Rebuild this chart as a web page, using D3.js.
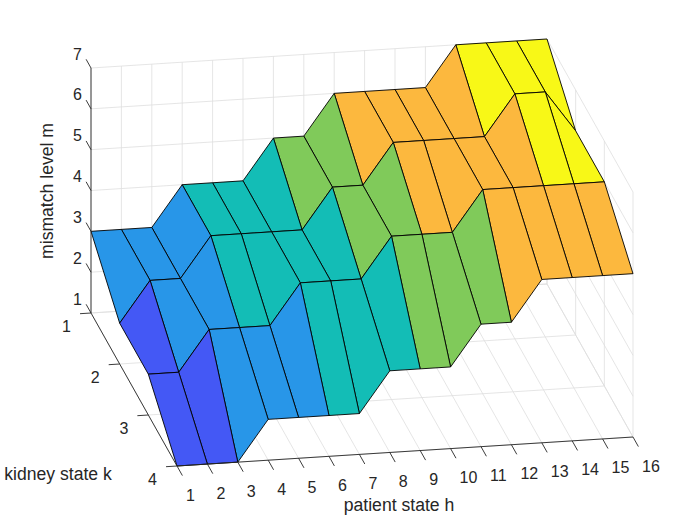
<!DOCTYPE html>
<html>
<head>
<meta charset="utf-8">
<script src="https://cdn.jsdelivr.net/npm/d3@7"></script>
<style>
  body { margin: 0; background: #fff; }
  text { font-family: Arial, "Liberation Sans", Helvetica, sans-serif; fill: #262626; }
</style>
</head>
<body>
<div id="chart-area"></div>
<script>
// DATA

// patient state h (columns), kidney state k (rows)
let hStates = d3.range(1, 17);
let kStates = [1, 2, 3, 4];
let zTicks = [1, 2, 3, 4, 5, 6, 7];

// mismatch level m, one array per kidney state
let mK1 = [3, 3, 3, 4, 4, 4, 5, 5, 6, 6, 6, 6, 7, 7, 7, 7];
let mK2 = [2, 3, 3, 4, 4, 4, 4, 5, 5, 6, 6, 6, 6, 7, 7, 6];
let mK3 = [2, 2, 3, 3, 3, 4, 4, 4, 5, 5, 5, 6, 6, 6, 6, 6];
let mK4 = [1, 1, 1, 2, 2, 2, 2, 3, 3, 3, 4, 4, 5, 5, 5, 5];
let mismatch = [mK1, mK2, mK3, mK4];

// parula-like colours for levels 1..7
let palette = ["#3e26a8", "#4458f5", "#2896e8", "#13bdb6", "#80ca5a", "#fcb83e", "#f8f817"];

// CHART AREA

let width = 700,
  height = 525;

let svg = d3
  .select("#chart-area")
  .append("svg")
  .attr("width", width)
  .attr("height", height);

// 3D -> screen (orthographic view, each axis adds a screen offset)
let origin = { x: 91, y: 313 };

let hx = d3.scaleLinear().domain([1, 16]).range([0, 456]);
let hy = d3.scaleLinear().domain([1, 16]).range([0, -29]);
let kx = d3.scaleLinear().domain([1, 4]).range([0, 86]);
let ky = d3.scaleLinear().domain([1, 4]).range([0, 153]);
let zy = d3.scaleLinear().domain([1, 7]).range([0, -245]);

let color = d3.scaleOrdinal().domain(zTicks).range(palette);

function proj(h, k, z) {
  return [origin.x + hx(h) + kx(k), origin.y + hy(h) + ky(k) + zy(z)];
}

let line = d3.line();

function seg(g, a, b, cls) {
  g.append("path").attr("class", cls).attr("d", line([a, b]));
}

let hMin = 1, hMax = 16, kMin = 1, kMax = 4, zMin = 1, zMax = 7;

// ---- GRID (floor + two back walls) ----
let grid = svg
  .append("g")
  .attr("fill", "none")
  .attr("stroke", "#dedede")
  .attr("stroke-width", 0.8);

kStates.forEach(function(k) {
  seg(grid, proj(hMin, k, zMin), proj(hMax, k, zMin), "grid");
  seg(grid, proj(hMax, k, zMin), proj(hMax, k, zMax), "grid");
});
hStates.forEach(function(h) {
  seg(grid, proj(h, kMin, zMin), proj(h, kMax, zMin), "grid");
  seg(grid, proj(h, kMin, zMin), proj(h, kMin, zMax), "grid");
});
zTicks.forEach(function(z) {
  seg(grid, proj(hMin, kMin, z), proj(hMax, kMin, z), "grid");
  seg(grid, proj(hMax, kMin, z), proj(hMax, kMax, z), "grid");
});

// ---- SURFACE ----
let cells = [];
for (let i = 0; i < kStates.length - 1; i++) {
  for (let j = 0; j < hStates.length - 1; j++) {
    let h0 = hStates[j], h1 = hStates[j + 1];
    let k0 = kStates[i], k1 = kStates[i + 1];
    cells.push({
      pts: [
        proj(h0, k0, mismatch[i][j]),
        proj(h1, k0, mismatch[i][j + 1]),
        proj(h1, k1, mismatch[i + 1][j + 1]),
        proj(h0, k1, mismatch[i + 1][j])
      ],
      value: mismatch[i][j],
      depth: hy((h0 + h1) / 2) + ky((k0 + k1) / 2)
    });
  }
}
// far cells first
cells.sort(function(a, b) {
  return a.depth - b.depth;
});

svg
  .append("g")
  .selectAll("path.cell")
  .data(cells)
  .enter()
  .append("path")
  .attr("class", "cell")
  .attr("d", function(d) {
    return line(d.pts) + "Z";
  })
  .attr("fill", function(d) {
    return color(d.value);
  })
  .attr("stroke", "#000")
  .attr("stroke-width", 0.9)
  .attr("stroke-linejoin", "round");

// ---- AXES ----
let axes = svg
  .append("g")
  .attr("fill", "none")
  .attr("stroke", "#262626")
  .attr("stroke-width", 0.9);

seg(axes, proj(hMin, kMin, zMin), proj(hMin, kMin, zMax), "z-axis");
seg(axes, proj(hMin, kMin, zMin), proj(hMin, kMax, zMin), "k-axis");
seg(axes, proj(hMin, kMax, zMin), proj(hMax, kMax, zMin), "h-axis");

function unit(dx, dy, len) {
  let n = Math.sqrt(dx * dx + dy * dy);
  return [(dx / n) * len, (dy / n) * len];
}

let kDir = unit(kx(2) - kx(1), ky(2) - ky(1), 1);
let hDir = unit(hx(2) - hx(1), hy(2) - hy(1), 1);
let tickLen = 11;

let labels = svg.append("g").style("font-size", "16px");

// z ticks
zTicks.forEach(function(z) {
  let p = proj(hMin, kMin, z);
  seg(axes, p, [p[0] - kDir[0] * 10, p[1] - kDir[1] * 10], "tick");
  labels
    .append("text")
    .attr("x", p[0] - 9)
    .attr("y", p[1] - 14)
    .attr("text-anchor", "end")
    .attr("dominant-baseline", "central")
    .text(z);
});

// k ticks
kStates.forEach(function(k) {
  let p = proj(hMin, k, zMin);
  seg(axes, p, [p[0] - hDir[0] * tickLen, p[1] - hDir[1] * tickLen], "tick");
  labels
    .append("text")
    .attr("x", p[0] - 20)
    .attr("y", p[1] + 13)
    .attr("text-anchor", "end")
    .attr("dominant-baseline", "central")
    .text(k);
});

// h ticks
hStates.forEach(function(h) {
  let p = proj(h, kMax, zMin);
  seg(axes, p, [p[0] + kDir[0] * tickLen, p[1] + kDir[1] * tickLen], "tick");
  labels
    .append("text")
    .attr("x", p[0] + 9)
    .attr("y", p[1] + 29)
    .attr("text-anchor", "start")
    .attr("dominant-baseline", "central")
    .text(h);
});

// axis titles
let titles = svg.append("g").style("font-size", "17.6px");
titles
  .append("text")
  .attr("x", 399)
  .attr("y", 511)
  .attr("text-anchor", "middle")
  .text("patient state h");
titles
  .append("text")
  .attr("x", 58)
  .attr("y", 480)
  .attr("text-anchor", "middle")
  .text("kidney state k");
titles
  .append("text")
  .attr("transform", "translate(53,191) rotate(-90)")
  .attr("text-anchor", "middle")
  .text("mismatch level m");
</script>
</body>
</html>
